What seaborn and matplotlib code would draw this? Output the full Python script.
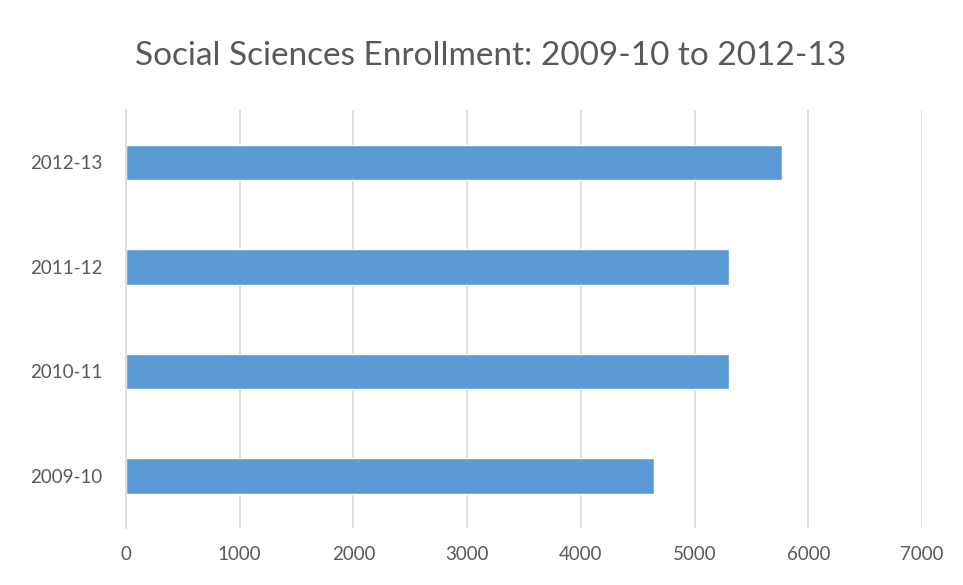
import matplotlib
matplotlib.use("Agg")
import matplotlib.pyplot as plt
import seaborn as sns
import pandas as pd

# Enrollment by academic year (top to bottom as drawn)
years = ["2012-13", "2011-12", "2010-11", "2009-10"]
enrollment = [5770, 5305, 5305, 4645]
x_ticks = [0, 1000, 2000, 3000, 4000, 5000, 6000, 7000]

df = pd.DataFrame({"year": years, "enrollment": enrollment})

sns.set_theme(style="white")
plt.rcParams["font.family"] = ["Lato", "DejaVu Sans"]

fig = plt.figure(figsize=(9.63, 5.85), dpi=100)
ax = fig.add_axes([0.1308, 0.0974, 0.8266, 0.7145])

sns.barplot(data=df, x="enrollment", y="year", order=years, orient="h",
            color="#5b9bd5", saturation=1, width=0.34, ax=ax)

ax.set_xlim(0, 7000)
ax.set_ylim(3.5, -0.5)
ax.set_xticks(x_ticks)
ax.set_xticklabels([str(t) for t in x_ticks])
ax.xaxis.grid(True, color="#d9d9d9", linewidth=1.2)
ax.set_axisbelow(True)

for s in ["top", "right", "bottom"]:
    ax.spines[s].set_visible(False)
ax.spines["left"].set_color("#d9d9d9")
ax.spines["left"].set_linewidth(1.2)

ax.tick_params(axis="x", length=0, pad=13, labelsize=13.5, labelcolor="#595959")
ax.tick_params(axis="y", length=0, pad=17, labelsize=13.5, labelcolor="#595959")
ax.set_xlabel("")
ax.set_ylabel("")

fig.text(0.509, 0.905, "Social Sciences Enrollment: 2009-10 to 2012-13",
         ha="center", va="center", fontsize=24, color="#595959")

fig.savefig("out.png", dpi=100, facecolor="white")
